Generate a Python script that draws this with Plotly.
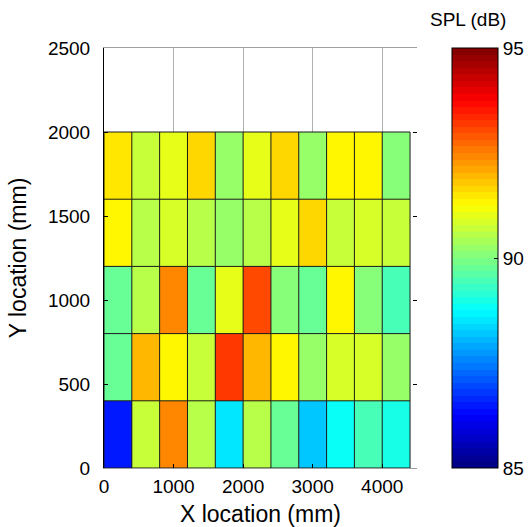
import plotly.graph_objects as go

# ---- data ----
x_centers = [200, 600, 1000, 1400, 1800, 2200, 2600, 3000, 3400, 3800, 4200]
y_centers = [200, 600, 1000, 1400, 1800]
cell_w = 400
cell_h = 400
spl_row_0 = [86.55, 90.75, 92.4, 90.6, 88.5, 90.6, 89.8, 88.25, 88.75, 89.4, 89.0]
spl_row_1 = [89.75, 91.9, 91.25, 90.75, 93.25, 91.9, 91.25, 90.3, 90.8, 90.9, 90.3]
spl_row_2 = [89.75, 90.6, 92.4, 89.75, 91.0, 93.1, 90.1, 89.75, 91.25, 90.0, 89.4]
spl_row_3 = [91.25, 90.6, 90.8, 90.6, 90.3, 90.6, 91.0, 91.65, 90.75, 90.8, 90.75]
spl_row_4 = [91.5, 90.75, 91.0, 91.65, 90.25, 91.0, 91.65, 90.25, 91.25, 91.25, 90.0]
x_ticks = [0, 1000, 2000, 3000, 4000]
y_ticks = [0, 500, 1000, 1500, 2000, 2500]
cbar_ticks = [85, 90, 95]
z = [spl_row_0, spl_row_1, spl_row_2, spl_row_3, spl_row_4]

# ---- jet colormap, 64 discrete levels ----
def jet(t):
    def ch(v):
        return max(0.0, min(1.0, v))
    r = ch(1.5 - abs(4 * t - 3))
    g = ch(1.5 - abs(4 * t - 2))
    b = ch(1.5 - abs(4 * t - 1))
    return "rgb(%d,%d,%d)" % (round(r * 255), round(g * 255), round(b * 255))

n = 64
colorscale = []
for i in range(n):
    c = jet((i + 0.5) / n)
    colorscale.append([i / n, c])
    colorscale.append([(i + 1) / n, c])

FS = 19
fig = go.Figure()
fig.add_trace(go.Heatmap(
    x=x_centers, y=y_centers, z=z, zmin=85, zmax=95,
    colorscale=colorscale, showscale=True,
    colorbar=dict(
        x=1.112, xanchor="left", xpad=0, ypad=0,
        y=0, yanchor="bottom", len=1, lenmode="fraction",
        thickness=46, thicknessmode="pixels",
        outlinecolor="black", outlinewidth=1,
        tickvals=cbar_ticks, ticks="inside", ticklen=4, tickcolor="black",
        tickfont=dict(size=FS, color="black"),
    ),
    hoverinfo="skip",
))

# cell borders derived from the cell centres
x_edges = [x_centers[0] - cell_w / 2] + [c + cell_w / 2 for c in x_centers]
y_edges = [y_centers[0] - cell_h / 2] + [c + cell_h / 2 for c in y_centers]
lx, ly = [], []
for xe in x_edges:
    lx += [xe, xe, None]
    ly += [y_edges[0], y_edges[-1], None]
for ye in y_edges:
    lx += [x_edges[0], x_edges[-1], None]
    ly += [ye, ye, None]
fig.add_trace(go.Scatter(x=lx, y=ly, mode="lines",
                         line=dict(color="#1a1a1a", width=1),
                         showlegend=False, hoverinfo="skip"))

# right-hand tick marks
fig.add_trace(go.Scatter(x=[None], y=[None], yaxis="y2", showlegend=False))

font = dict(family="Liberation Sans, Arial, sans-serif", size=FS, color="black")
fig.update_layout(
    width=529, height=527,
    margin=dict(l=104, r=112, t=48, b=59, autoexpand=False),
    plot_bgcolor="white", paper_bgcolor="white",
    font=font, showlegend=False,
    xaxis=dict(range=[0, 4500], tickvals=x_ticks, showgrid=True,
               gridcolor="#b0b0b0", gridwidth=1, zeroline=False,
               showline=True, linecolor="#a0a0a0", linewidth=1, mirror=True,
               ticks="inside", ticklen=4, tickcolor="black",
               title=dict(text="X location (mm)", standoff=12),
               ticklabelstandoff=1),
    yaxis=dict(range=[0, 2500], tickvals=y_ticks, showgrid=False, zeroline=False,
               showline=True, linecolor="black", linewidth=1, mirror=False,
               ticks="inside", ticklen=4, tickcolor="black",
               title=dict(text="Y location (mm)", standoff=14),
               ticklabelstandoff=9),
    yaxis2=dict(range=[0, 2500], overlaying="y", side="right",
                tickvals=y_ticks, showticklabels=False, showgrid=False,
                zeroline=False, showline=False, ticks="inside", ticklen=4,
                tickcolor="black"),
    annotations=[dict(text="SPL (dB)", xref="paper", yref="paper",
                      x=1.163, y=1.0, xanchor="center", yanchor="bottom",
                      yshift=16, showarrow=False,
                      font=dict(size=FS, color="black"))],
)

fig.write_html("out.html")
